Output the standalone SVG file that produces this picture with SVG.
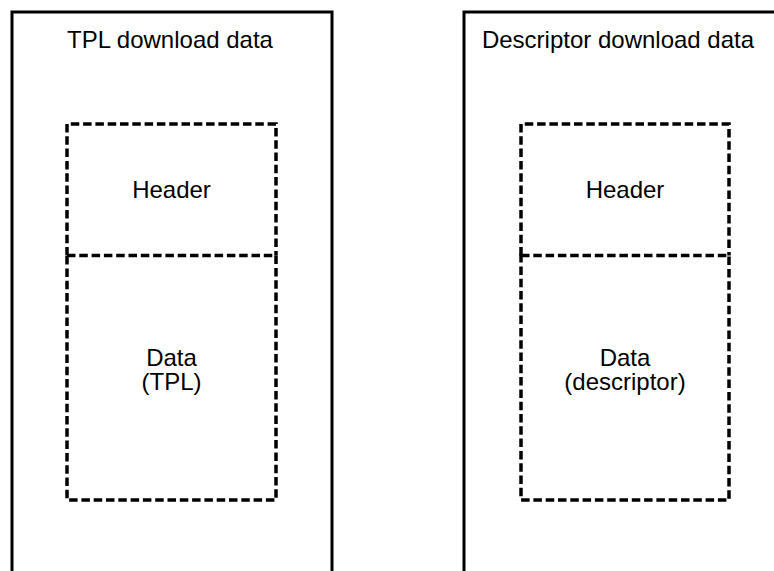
<svg xmlns="http://www.w3.org/2000/svg" width="774" height="571" viewBox="0 0 774 571">
<style>
.outer{fill:none;stroke:#000;stroke-width:3}
.dash{fill:none;stroke:#000;stroke-width:3.5;stroke-dasharray:8.5 3.8}
text{font-family:"Liberation Sans",Arial,sans-serif;font-size:24px;fill:#000;text-anchor:middle}
</style>
<rect width="774" height="571" fill="#fff"/>
<g id="tpl-download-data">
<path class="outer" d="M12,580 V12 H332 V580"/>
<text x="170" y="48">TPL download data</text>
</g>
<g id="tpl-header">
<path class="dash" d="M67,255.5 V124 H276 V255.5"/>
<text x="171.5" y="198">Header</text>
</g>
<g id="tpl-data">
<path class="dash" d="M67,255.5 H276 V500 H67 Z"/>
<text x="171.5" y="366">Data</text>
<text x="171.5" y="390">(TPL)</text>
</g>
<g id="descriptor-download-data">
<path class="outer" d="M464,580 V12 H790"/>
<text x="618" y="48">Descriptor download data</text>
</g>
<g id="descriptor-header">
<path class="dash" d="M521,255.5 V124 H729 V255.5"/>
<text x="625" y="198">Header</text>
</g>
<g id="descriptor-data">
<path class="dash" d="M521,255.5 H729 V500 H521 Z"/>
<text x="625" y="366">Data</text>
<text x="625" y="390">(descriptor)</text>
</g>
<g id="connectors"/>
</svg>
